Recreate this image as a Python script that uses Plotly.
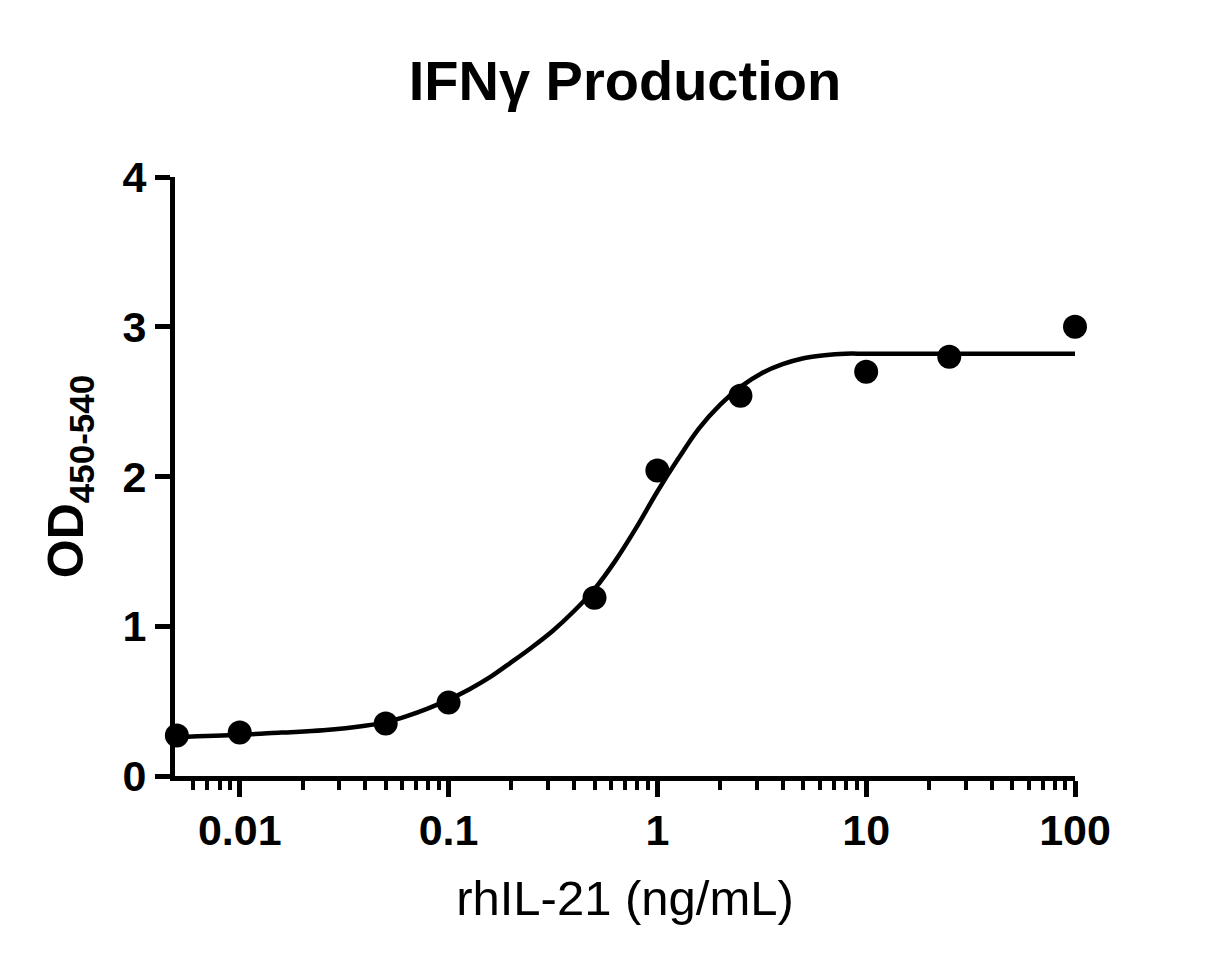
import plotly.graph_objects as go

# measured points
dose = [0.005, 0.01, 0.05, 0.1, 0.5, 1, 2.5, 10, 25, 100]
od = [0.27, 0.29, 0.35, 0.49, 1.19, 2.04, 2.54, 2.70, 2.80, 3.00]

# fitted curve (about every 0.1 decade)
fit_x = [0.005, 0.01, 0.0158, 0.0251, 0.0398, 0.0501, 0.0631, 0.0794, 0.1, 0.126,
         0.158, 0.2, 0.251, 0.316, 0.398, 0.501, 0.631, 0.794, 1.0, 1.26,
         1.58, 2.0, 2.51, 3.16, 3.98, 5.01, 6.31, 7.94, 10, 20, 50, 100]
fit_y = [0.26, 0.275, 0.29, 0.305, 0.335, 0.36, 0.40, 0.45, 0.51, 0.58,
         0.66, 0.76, 0.86, 0.97, 1.10, 1.25, 1.44, 1.66, 1.90, 2.12,
         2.32, 2.48, 2.60, 2.69, 2.75, 2.79, 2.81, 2.82, 2.82, 2.82, 2.82, 2.82]

x_ticks = [0.01, 0.1, 1, 10, 100]
x_ticktext = ["0.01", "0.1", "1", "10", "100"]
minor_vals = [m * 10 ** e for e in range(-3, 2) for m in range(2, 10) if m * 10 ** e >= 0.0055]

font = "Liberation Sans, Arial, sans-serif"

fig = go.Figure()
fig.add_trace(go.Scatter(
    x=fit_x, y=fit_y, mode="lines", line=dict(color="black", width=4.5, shape="spline"),
    cliponaxis=False, showlegend=False, hoverinfo="skip"))
fig.add_trace(go.Scatter(
    x=dose, y=od, mode="markers", marker=dict(color="black", size=24),
    cliponaxis=False, showlegend=False))

# page body adds 8px, margins below account for it
fig.update_layout(
    width=1212, height=969,
    margin=dict(l=167, r=145, t=169, b=201),
    paper_bgcolor="white", plot_bgcolor="white",
    font=dict(family=font, color="black"),
    title=dict(text="<b>IFNγ Production</b>", x=0.509, xanchor="center",
               y=1 - 72 / 969, yanchor="middle", yref="container",
               font=dict(size=56, family=font, color="black")),
)
fig.update_xaxes(
    type="log", range=[-2.31, 2.0],
    tickvals=x_ticks, ticktext=x_ticktext,
    ticks="outside", ticklen=16, tickwidth=5, tickcolor="black",
    showline=True, linewidth=5, linecolor="black", showgrid=False, zeroline=False,
    tickfont=dict(size=43, family=font, color="black", weight="bold"),
    ticklabelstandoff=-4,
    minor=dict(tickvals=minor_vals, ticks="outside", ticklen=9, tickwidth=4,
               tickcolor="black", showgrid=False),
    title=dict(text="rhIL-21 (ng/mL)", font=dict(size=49, family=font, color="black"), standoff=30),
)
fig.update_yaxes(
    range=[0, 4], dtick=1, tick0=0,
    ticks="outside", ticklen=15, tickwidth=5, tickcolor="black",
    showline=True, linewidth=5, linecolor="black", showgrid=False, zeroline=False,
    tickfont=dict(size=43, family=font, color="black", weight="bold"),
    title=dict(text="<b>OD<sub>450-540</sub></b>", font=dict(size=50, family=font, color="black"), standoff=24),
)

fig.write_html("out.html")
